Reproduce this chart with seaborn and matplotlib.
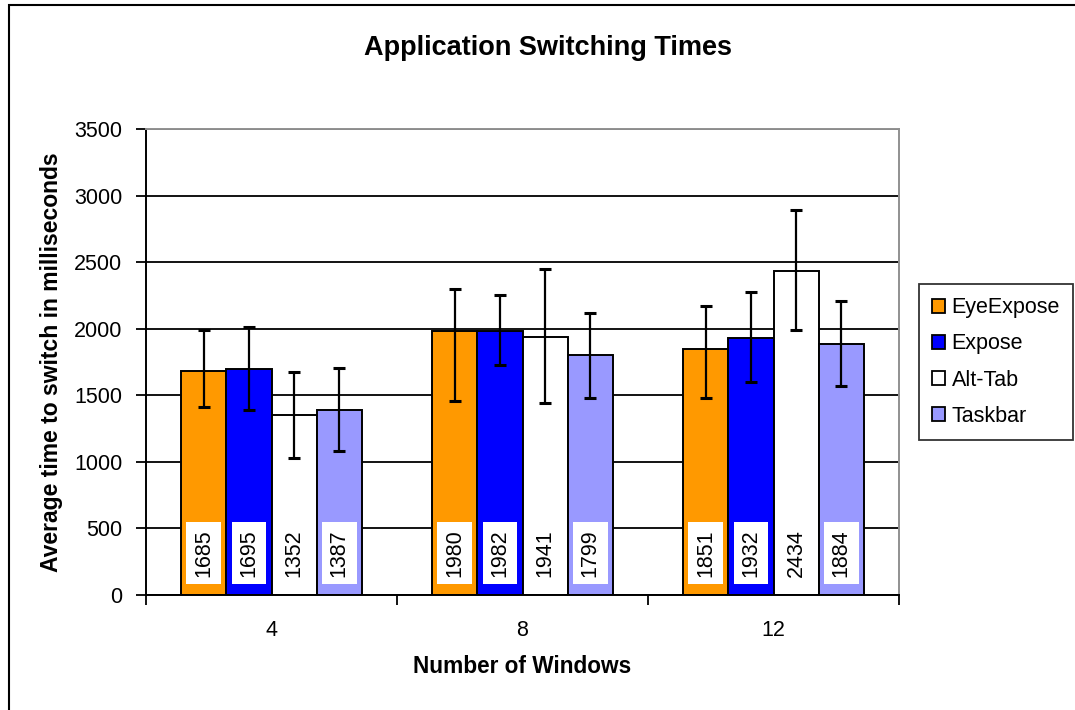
import matplotlib
matplotlib.use('Agg')
import matplotlib.pyplot as plt
from matplotlib.patches import Rectangle
import pandas as pd
import seaborn as sns

# Dados do gráfico
windows = ['4', '8', '12']
methods = ['EyeExpose', 'Expose', 'Alt-Tab', 'Taskbar']
eyeexpose = [1685, 1980, 1851]
expose = [1695, 1982, 1932]
alttab = [1352, 1941, 2434]
taskbar = [1387, 1799, 1884]

# limites inferior / superior das barras de erro
eyeexpose_low = [1415, 1455, 1480]
eyeexpose_high = [1991, 2301, 2171]
expose_low = [1390, 1730, 1598]
expose_high = [2016, 2252, 2276]
alttab_low = [1030, 1440, 1989]
alttab_high = [1675, 2447, 2890]
taskbar_low = [1085, 1480, 1570]
taskbar_high = [1703, 2119, 2211]

colors = ['#FF9900', '#0000FF', '#FFFFFF', '#9999FF']

values = [eyeexpose, expose, alttab, taskbar]
lows = [eyeexpose_low, expose_low, alttab_low, taskbar_low]
highs = [eyeexpose_high, expose_high, alttab_high, taskbar_high]

rows = []
for m, vals in zip(methods, values):
    for w, v in zip(windows, vals):
        rows.append({'windows': w, 'method': m, 'time': v})
df = pd.DataFrame(rows)

sns.set_style('white')
plt.rcParams['font.family'] = ['Liberation Sans', 'DejaVu Sans']
plt.rcParams['text.color'] = 'black'
plt.rcParams['axes.labelcolor'] = 'black'
plt.rcParams['xtick.color'] = 'black'
plt.rcParams['ytick.color'] = 'black'

fig = plt.figure(figsize=(10.75, 7.1), dpi=100)
ax = fig.add_axes([146 / 1075, 1 - 595 / 710, (899 - 146) / 1075, (595 - 129) / 710])

ax.set_axisbelow(True)
ax.yaxis.grid(True, color='black', linewidth=1.3)

sns.barplot(data=df, x='windows', y='time', hue='method', order=windows,
            hue_order=methods, palette=colors, edgecolor='black', linewidth=1.4,
            width=0.72, gap=0, errorbar=None, saturation=1, ax=ax, legend=False)

# barras de erro e rótulos de valores
bar_containers = list(ax.containers)
for i, cont in enumerate(bar_containers):
    for j, patch in enumerate(cont.patches):
        xc = patch.get_x() + patch.get_width() / 2
        h = patch.get_height()
        ax.errorbar(xc, h, yerr=[[h - lows[i][j]], [highs[i][j] - h]], fmt='none',
                    ecolor='black', elinewidth=1.6, capsize=4.5, capthick=2.2, zorder=5)
        ax.text(xc, 315, str(values[i][j]), rotation=90, ha='center', va='center',
                fontsize=15.5, color='black', zorder=6,
                bbox=dict(facecolor='white', edgecolor='none', boxstyle='square,pad=0.32'))

ax.set_ylim(0, 3500)
ax.set_xlim(-0.5, 2.5)
ax.set_yticks(range(0, 3501, 500))
ax.tick_params(axis='y', direction='out', length=7, width=1.3, labelsize=15.5, pad=10, left=True)
ax.set_xticks([-0.5, 0.5, 1.5, 2.5], minor=True)
ax.tick_params(axis='x', which='minor', direction='out', length=7, width=1.3, bottom=True)
ax.tick_params(axis='x', which='major', length=0, labelsize=15.5, pad=18)

for s in ['left', 'bottom']:
    ax.spines[s].set_color('black')
    ax.spines[s].set_linewidth(1.4)
for s in ['top', 'right']:
    ax.spines[s].set_color('#909090')
    ax.spines[s].set_linewidth(1.4)

ax.set_xlabel('Number of Windows', fontsize=16.3, fontweight='bold', labelpad=10)
ax.set_ylabel('Average time to switch in milliseconds', fontsize=16.5, fontweight='bold', labelpad=8)

fig.text(548 / 1075, 1 - 48 / 710, 'Application Switching Times', ha='center', va='center',
         fontsize=19.5, fontweight='bold')

# legenda
handles = [Rectangle((0, 0), 1, 1, facecolor=c, edgecolor='black', linewidth=1.3) for c in colors]
leg = fig.legend(handles, methods, loc='center', bbox_to_anchor=(996 / 1075, 1 - 362 / 710),
                 fontsize=15.5, frameon=True, fancybox=False, edgecolor='black',
                 handlelength=0.6, handleheight=0.6, handletextpad=0.3,
                 labelspacing=0.7, borderpad=0.6)
leg.get_frame().set_linewidth(1.3)

# borda externa do gráfico
fig.add_artist(Rectangle((9 / 1075, -0.1), 1.2, 1 - 5 / 710 + 0.1, transform=fig.transFigure,
                         fill=False, edgecolor='black', linewidth=1.5))

fig.savefig('out.png', dpi=100, facecolor='white')
